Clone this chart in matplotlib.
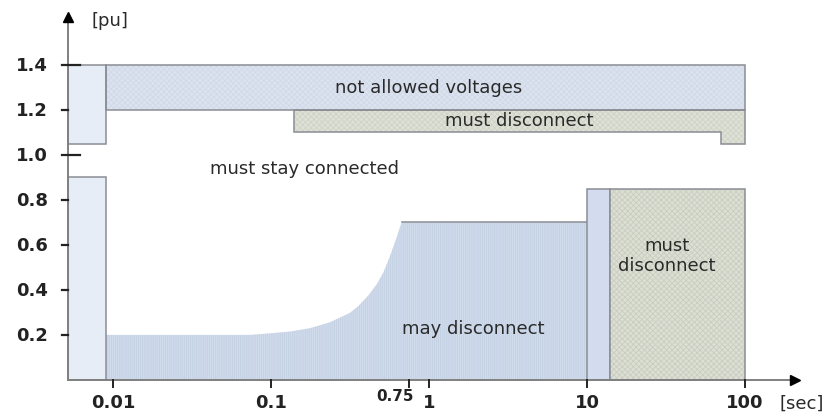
import matplotlib
matplotlib.use('Agg')
import matplotlib.pyplot as plt
from matplotlib.patches import Polygon
from matplotlib.transforms import offset_copy

plt.rcParams['hatch.linewidth'] = 0.6

# --- data (time in s, voltage in pu) ---
t_origin = 0.0052          # where the axes cross
t_left = 0.009             # end of the left-hand boxes
left_upper = (1.05, 1.4)
left_lower = (0.0, 0.9)

not_allowed_t = [0.009, 100]
not_allowed_v = (1.2, 1.4)

upper_disc_t = [0.14, 100, 100, 70, 70, 0.14]
upper_disc_v = [1.2, 1.2, 1.05, 1.05, 1.1, 1.1]

may_t = [0.009, 0.074, 0.099, 0.132, 0.177, 0.236, 0.316, 0.357, 0.413, 0.467,
         0.514, 0.553, 0.594, 0.625, 0.655, 0.672, 10]
may_v = [0.2, 0.2, 0.207, 0.215, 0.23, 0.256, 0.298, 0.328, 0.375, 0.425,
         0.477, 0.531, 0.59, 0.634, 0.679, 0.7, 0.7]

blue_box_t = (10, 14)
lower_disc_t = (14, 100)
lower_box_top = 0.85

y_ticks = [0.2, 0.4, 0.6, 0.8, 1.0, 1.2, 1.4]
y_long_ticks = [1.0, 1.4]
x_ticks = [0.01, 0.1, 0.75, 1, 10, 100]
x_labels = ['0.01', '0.1', '0.75', '1', '10', '100']

y_axis_top = 1.615
x_axis_end = 207

edge = '#8a8d93'
txt = '#2a2a2a'

fig = plt.figure(figsize=(8.28, 4.14), dpi=100)
ax = fig.add_axes([0, 0, 1, 1])
ax.set_xscale('log')
ax.set_xlim(10 ** -2.715, 10 ** 2.525)
ax.set_ylim(-0.147, 1.693)
ax.axis('off')


def poly(pts, color, hatch=None, hcolor=None, z=2):
    ax.add_patch(Polygon(pts, closed=True, facecolor=color, edgecolor='none', zorder=z))
    if hatch:
        ax.add_patch(Polygon(pts, closed=True, facecolor='none', edgecolor=hcolor,
                             hatch=hatch, linewidth=0, zorder=z))
    ax.add_patch(Polygon(pts, closed=True, facecolor='none', edgecolor=edge,
                         linewidth=1.1, zorder=z + 0.5))


def box(t0, t1, v0, v1, color, hatch=None, hcolor=None, z=2):
    poly([(t0, v0), (t1, v0), (t1, v1), (t0, v1)], color, hatch, hcolor, z)


# left boxes
box(t_origin, t_left, *left_upper, '#e7edf7')
box(t_origin, t_left, *left_lower, '#e7edf7')

# not allowed voltages
box(not_allowed_t[0], not_allowed_t[1], *not_allowed_v, '#dce3f0', 'xxxxxx', '#d2d9e6')

# upper must disconnect
poly(list(zip(upper_disc_t, upper_disc_v)), '#dfe1d6', 'xxxxxx', '#cfd2c6')

# may disconnect area
ax.fill_between(may_t, 0, may_v, facecolor='#d0dcec', edgecolor='none', zorder=1.5)
ax.fill_between(may_t, 0, may_v, facecolor='none', edgecolor='#c3d0e3',
                hatch='||||||||', linewidth=0, zorder=1.6)
ax.plot(may_t[-2:], may_v[-2:], color=edge, lw=1.1, zorder=2)

# right-hand boxes
box(blue_box_t[0], blue_box_t[1], 0, lower_box_top, '#d2dcee')
box(lower_disc_t[0], lower_disc_t[1], 0, lower_box_top, '#dcdfd3', 'xxxxxx', '#c9ccbf', z=3)

# axes with arrow heads
ax.plot([t_origin, t_origin], [0, y_axis_top - 0.02], color='#808080', lw=1.4, zorder=5)
ax.plot([t_origin, x_axis_end], [0, 0], color='#808080', lw=1.4, zorder=5)
ax.plot([t_origin], [y_axis_top], marker='^', color='black', ms=7, zorder=6)
ax.plot([x_axis_end], [0], marker='>', color='black', ms=7, zorder=6)

# y ticks
ytr = ax.get_yaxis_transform()
for v in y_ticks:
    x1 = 0.0966 if v in y_long_ticks else 0.0821
    ax.plot([0.0749, x1], [v, v], color='#222222', lw=1.6, transform=ytr, zorder=6)
    ax.text(0.058, v, f'{v:.1f}', transform=ytr, ha='right', va='center',
            fontsize=13, fontweight='bold', color='#222222')

# x ticks
xtr = ax.get_xaxis_transform()
for t, lab in zip(x_ticks, x_labels):
    ax.plot([t, t], [0.0628, 0.0797], color='#222222', lw=1.4, transform=xtr, zorder=6)
    if lab == '0.75':
        tr = offset_copy(xtr, fig=fig, x=-14, y=0, units='dots')
        ax.text(t, 0.043, lab, transform=tr, ha='center', va='center',
                fontsize=11, fontweight='bold', color='#222222')
    else:
        ax.text(t, 0.026, lab, transform=xtr, ha='center', va='center',
                fontsize=13, fontweight='bold', color='#222222')

ax.text(0.111, 0.949, '[pu]', transform=ax.transAxes, ha='left', va='center',
        fontsize=13, color=txt)
ax.text(0.942, 0.026, '[sec]', transform=ax.transAxes, ha='left', va='center',
        fontsize=13, color=txt)

# region labels
ax.text(1.0, 1.3, 'not allowed voltages', ha='center', va='center', fontsize=13, color=txt, zorder=7)
ax.text(3.7, 1.155, 'must disconnect', ha='center', va='center', fontsize=13, color=txt, zorder=7)
ax.text(0.162, 0.94, 'must stay connected', ha='center', va='center', fontsize=13, color=txt, zorder=7)
ax.text(1.9, 0.23, 'may disconnect', ha='center', va='center', fontsize=13, color=txt, zorder=7)
ax.text(32, 0.555, 'must\ndisconnect', ha='center', va='center', fontsize=13, color=txt,
        linespacing=1.15, zorder=7)

fig.savefig('out.png', dpi=100)
